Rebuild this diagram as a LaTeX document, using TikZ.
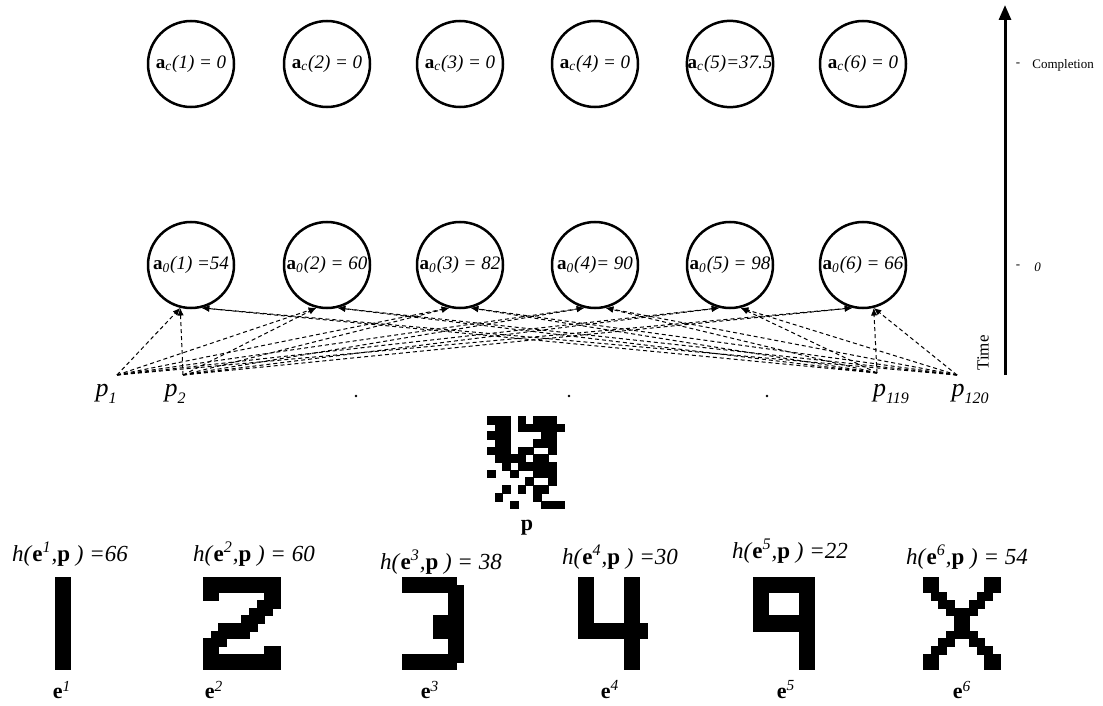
\documentclass[tikz,border=0pt]{standalone}
\usepackage{fontspec}
\setmainfont{Liberation Serif}
\usetikzlibrary{arrows.meta}

\begin{document}
\begin{tikzpicture}[
    x=0.5pt, y=-0.5pt,
    unit/.style={
        circle,
        draw,
        line width=1.25pt,
        minimum size=43pt,
        inner sep=0pt,
        font=\fontsize{9.5}{11}\selectfont
    },
    link/.style={-{Latex[length=3.8pt,width=3.2pt]},
                 dash pattern=on 2pt off 1.5pt, line width=0.5pt},
    timeline/.style={-{Triangle[length=7.5pt,width=6pt]}, line width=1.5pt},
    pixel label/.style={font=\fontsize{13}{15}\selectfont},
    ham label/.style={font=\fontsize{11.5}{13}\selectfont},
    proto label/.style={font=\fontsize{11}{13}\selectfont\bfseries},
    axis label/.style={font=\fontsize{6.5}{8}\selectfont, inner sep=0pt},
    gap dot/.style={circle, fill, inner sep=0pt, minimum size=1.4pt},
    bits/.style={x=3.85pt, y=-3.85pt, line width=0.15pt}
]
    \useasboundingbox (0,0) rectangle (1103,706);

    % output units: after completion (top row) and at time 0 (bottom row)
    \foreach \i/\cx/\fv/\iv in {1/191/{(1) = 0}/{(1) =54},
                                2/327/{(2) = 0}/{(2) = 60},
                                3/460/{(3) = 0}/{(3) = 82},
                                4/595/{(4) = 0}/{(4)= 90},
                                5/730/{(5)=37.5}/{(5) = 98},
                                6/863/{(6) = 0}/{(6) = 66}} {
        \node[unit] (fin\i) at (\cx,64)
            {\textbf{a}\textsubscript{\textit{c}}\textit{\fv}};
        \node[unit] (init\i) at (\cx,265)
            {\textbf{a}\textsubscript{\textit{0}}\textit{\iv}};
    }

    % input pixels
    \coordinate (src1) at (117,375);
    \coordinate (src2) at (183,375);
    \coordinate (src119) at (877,373);
    \coordinate (src120) at (957,375);
    \node[pixel label] (plab1) at (106,394)
        {\textit{p}\raisebox{-0.55ex}{\fontsize{8}{9}\selectfont\itshape 1}};
    \node[pixel label] (plab2) at (175,394)
        {\textit{p}\raisebox{-0.55ex}{\fontsize{8}{9}\selectfont\itshape 2}};
    \node[pixel label] (plab119) at (891,394)
        {\textit{p}\raisebox{-0.55ex}{\fontsize{8}{9}\selectfont\itshape 119}};
    \node[pixel label] (plab120) at (970,394)
        {\textit{p}\raisebox{-0.55ex}{\fontsize{8}{9}\selectfont\itshape 120}};
    \node[gap dot] (gap1) at (356,396) {};
    \node[gap dot] (gap2) at (569,396) {};
    \node[gap dot] (gap3) at (767,396) {};

    \foreach \s in {src1,src2}
        \foreach \i in {1,...,6}
            \draw[link] (\s) -- (init\i.-104);
    \foreach \s in {src119,src120}
        \foreach \i in {1,...,6}
            \draw[link] (\s) -- (init\i.-76);

    % time axis
    \coordinate (tbot) at (1005,375);
    \coordinate (ttop) at (1005,5);
    \draw[timeline] (tbot) -- (ttop);
    \node[rotate=90, font=\fontsize{8.5}{10}\selectfont] (tlab) at (983,353) {Time};
    \node[axis label] (tickfin) at (1018,65) {-};
    \node[axis label, anchor=west] (lblfin) at (1032,65) {Completion};
    \node[axis label] (tickinit) at (1018,267) {-};
    \node[axis label, anchor=west] (lblinit) at (1034,267) {\textit{0}};

    % noisy pattern p
    \begin{scope}[shift={(487,416)}, bits]
        \foreach \r/\a/\b in {0/0/2,0/4/4,0/6/8, 1/1/2,1/4/9, 2/0/2,2/7/8,
                              3/1/2,3/6/8, 4/0/2,4/4/5,4/8/8, 5/1/4,5/6/7,
                              6/2/2,6/4/8, 7/0/0,7/3/3,7/6/8, 8/5/5,8/8/8,
                              9/2/2,9/4/4,9/6/7, 10/1/1,10/6/6, 11/3/3,11/7/9}
            \filldraw (\a,\r) rectangle (\b+1,\r+1);
    \end{scope}
    \node[proto label] (plab) at (527,528) {p};

    % prototypes e^1 ... e^6 and their distances to p
    \foreach \k/\hx/\hy/\hv in {1/70/554/{=66}, 2/254/554/{= 60},
                                3/441/562/{= 38}, 4/620/557/{=30},
                                5/790/551/{=22}, 6/967/557/{= 54}}
        \node[ham label] (ham\k) at (\hx,\hy)
            {\textit{h(}\textbf{e}\textsuperscript{\textit{\k}}\textit{,}\textbf{p}\textit{ ) \hv}};
    \foreach \k/\ex in {1/62,2/214,3/430,4/610,5/786,6/962}
        \node[proto label] (proto\k) at (\ex,690)
            {e\textsuperscript{\mdseries\itshape\k}};

    \begin{scope}[shift={(55,577)}, bits]
        \filldraw (0,0) rectangle (2,12);
    \end{scope}
    \begin{scope}[shift={(203,577)}, bits]
        \foreach \r/\a/\b in {0/0/9, 1/0/9, 2/0/1,2/8/9, 3/7/9, 4/6/8, 5/5/7,
                              6/2/6, 7/1/5, 8/0/2, 9/0/1,9/8/9, 10/0/9, 11/0/9}
            \filldraw (\a,\r) rectangle (\b+1,\r+1);
    \end{scope}
    \begin{scope}[shift={(402,577)}, bits]
        \foreach \r/\a/\b in {0/0/6, 1/0/7, 2/6/7, 3/6/7, 4/6/7, 5/4/7, 6/4/7,
                              7/4/7, 8/6/7, 9/6/7, 10/0/7, 11/0/6}
            \filldraw (\a,\r) rectangle (\b+1,\r+1);
    \end{scope}
    \begin{scope}[shift={(578,577)}, bits]
        \filldraw (0,0) rectangle (2,8);
        \filldraw (2,6) rectangle (9,8);
        \filldraw (6,0) rectangle (8,6);
        \filldraw (6,8) rectangle (8,12);
    \end{scope}
    \begin{scope}[shift={(753,577)}, bits]
        \filldraw (0,0) rectangle (8,2);
        \filldraw (0,2) rectangle (2,5);
        \filldraw (0,5) rectangle (8,7);
        \filldraw (6,2) rectangle (8,5);
        \filldraw (6,7) rectangle (8,12);
    \end{scope}
    \begin{scope}[shift={(923,577)}, bits]
        \foreach \r/\a/\b in {0/0/1,0/8/9, 1/0/1,1/8/9, 2/1/2,2/7/8,
                              3/2/3,3/6/7, 4/3/6, 5/4/5, 6/4/5, 7/3/6,
                              8/2/3,8/6/7, 9/1/2,9/7/8, 10/0/1,10/8/9, 11/0/1,11/8/9}
            \filldraw (\a,\r) rectangle (\b+1,\r+1);
    \end{scope}
\end{tikzpicture}
\end{document}
